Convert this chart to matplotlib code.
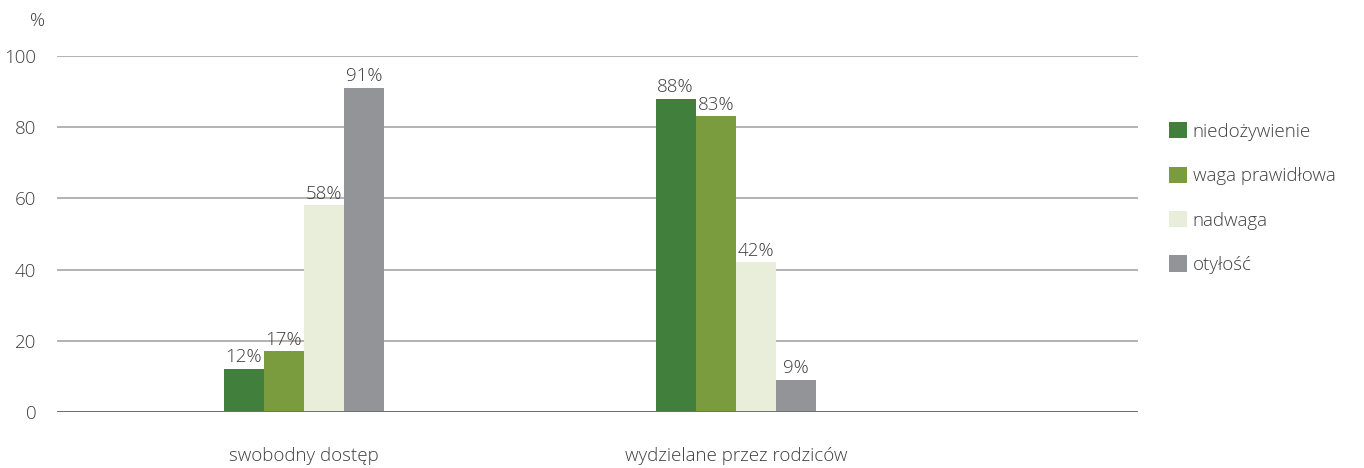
import numpy as np
import matplotlib.pyplot as plt
from matplotlib.patches import Patch

plt.rcParams['font.family'] = ['Open Sans', 'DejaVu Sans']
plt.rcParams['font.weight'] = 'light'

groups = ['swobodny dostęp', 'wydzielane przez rodziców']
series = ['niedożywienie', 'waga prawidłowa', 'nadwaga', 'otyłość']
values = {
    'niedożywienie': [12, 88],
    'waga prawidłowa': [17, 83],
    'nadwaga': [58, 42],
    'otyłość': [91, 9],
}
colors = ['#41803c', '#7a9c3e', '#e9eedb', '#939497']
yticks = [0, 20, 40, 60, 80, 100]

txt = '#3e3e3e'
fs = 13.5

fig = plt.figure(figsize=(13.64, 4.68), dpi=100)
ax = fig.add_axes([0.0418, 0.1197, 0.7925, 0.7607])

x = np.arange(len(groups))
w = 0.093
for i, name in enumerate(series):
    pos = x + (i - 1.5) * w
    bars = ax.bar(pos, values[name], width=w, color=colors[i], zorder=3)
    for b, v in zip(bars, values[name]):
        ax.text(b.get_x() + b.get_width() / 2, v + 0.8, f'{v}%',
                ha='center', va='bottom', fontsize=fs, color=txt, zorder=4)

ax.set_xlim(-0.572, 1.931)
ax.set_ylim(0, 100)
ax.set_yticks(yticks)
ax.set_xticks(x)
ax.set_xticklabels(groups)
ax.tick_params(axis='both', length=0, labelsize=fs, labelcolor=txt)
ax.tick_params(axis='y', pad=15)
ax.tick_params(axis='x', pad=25)
for s in ax.spines.values():
    s.set_visible(False)
ax.grid(axis='y', color='#a6a6a6', linewidth=1.2, zorder=0)
ax.axhline(0, color='#707070', linewidth=1.4, zorder=5)

fig.text(0.022, 0.955, '%', fontsize=fs, color=txt, ha='left', va='center')

handles = [Patch(facecolor=c, edgecolor='none') for c in colors]
leg = ax.legend(handles, series, loc='upper left',
                bbox_to_anchor=(1.022, 0.835), frameon=False,
                fontsize=fs, labelcolor=txt, handlelength=0.95,
                handleheight=0.95, handletextpad=0.3, labelspacing=1.38,
                borderaxespad=0)

fig.savefig('out.png', dpi=100)
